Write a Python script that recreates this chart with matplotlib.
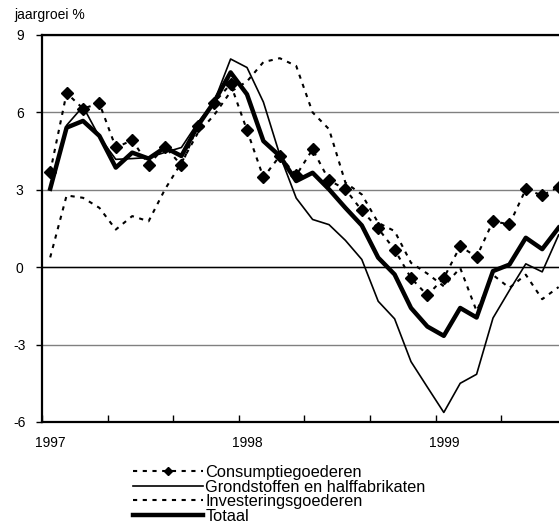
import numpy as np
import matplotlib
matplotlib.use("Agg")
import matplotlib.pyplot as plt

plt.rcParams['font.family'] = ['Liberation Sans', 'DejaVu Sans']
plt.rcParams['lines.scale_dashes'] = False
plt.rcParams['axes.unicode_minus'] = False

# maandelijkse jaargroei, jan 1997 - aug 1999
jaar_labels = ["1997", "1998", "1999"]
jaar_posities = [0, 12, 24]

consumptie = [3.69, 6.75, 6.15, 6.35, 4.64, 4.92, 3.98, 4.67, 3.95, 5.48, 6.38, 7.10,
              5.31, 3.48, 4.31, 3.56, 4.57, 3.37, 3.02, 2.20, 1.50, 0.68, -0.42, -1.09,
              -0.42, 0.81, 0.40, 1.78, 1.66, 3.02, 2.78, 3.11]
grondstoffen = [3.10, 5.50, 6.23, 5.05, 4.18, 4.21, 4.25, 4.45, 4.64, 5.60, 6.42, 8.07,
                7.74, 6.40, 4.35, 2.68, 1.85, 1.65, 1.04, 0.30, -1.32, -2.00, -3.66, -4.65,
                -5.63, -4.50, -4.15, -1.97, -0.90, 0.13, -0.18, 1.25]
investering = [0.38, 2.78, 2.69, 2.30, 1.46, 1.98, 1.78, 3.02, 4.05, 5.20, 5.90, 6.80,
               7.20, 7.95, 8.10, 7.80, 6.00, 5.35, 3.28, 2.82, 1.72, 1.40, 0.17, -0.25,
               -0.74, -0.03, -1.70, -0.30, -0.80, -0.29, -1.24, -0.77]
totaal = [3.04, 5.41, 5.67, 5.09, 3.86, 4.44, 4.21, 4.64, 4.31, 5.48, 6.41, 7.55,
          6.70, 4.89, 4.31, 3.34, 3.66, 3.02, 2.30, 1.62, 0.37, -0.28, -1.58, -2.30,
          -2.66, -1.58, -1.95, -0.15, 0.10, 1.14, 0.70, 1.53]

maanden = np.arange(len(totaal))

fig = plt.figure(figsize=(5.59, 5.29), dpi=100)
ax = fig.add_axes([42/559, 1 - 422/529, 524.8/559, 387/529])

ax.plot(maanden, consumptie, color='black', lw=1.5, dashes=(3, 4),
        marker='D', markersize=6, label='Consumptiegoederen')
ax.plot(maanden, grondstoffen, color='black', lw=1.2,
        label='Grondstoffen en halffabrikaten')
ax.plot(maanden, investering, color='black', lw=1.5, dashes=(3, 4),
        label='Investeringsgoederen')
ax.plot(maanden, totaal, color='black', lw=3.2, label='Totaal')

ax.set_xlim(-0.5, len(totaal) - 0.5)
ax.set_ylim(-6, 9)
ax.set_yticks(range(-6, 10, 3))
ax.yaxis.grid(True, color='#808080', lw=1)
ax.axhline(0, color='black', lw=1, zorder=1)
ax.set_axisbelow(True)

for s in ax.spines.values():
    s.set_linewidth(1.6)
ax.spines['right'].set_visible(False)

ax.tick_params(axis='y', direction='out', length=4, width=1, pad=12, labelsize=10)
for lbl in ax.get_yticklabels():
    lbl.set_ha('center')

ax.set_xticks(np.arange(-0.5, len(totaal), 4))
ax.set_xticklabels([])
ax.tick_params(axis='x', which='major', direction='in', length=5, width=1)
ax.set_xticks(jaar_posities, minor=True)
ax.set_xticklabels(jaar_labels, minor=True)
ax.tick_params(axis='x', which='minor', length=0, pad=10, labelsize=10)

fig.text(14/559, 1 - 15/529, 'jaargroei %', fontsize=10, ha='left', va='center')

ax.legend(loc='upper left', bbox_to_anchor=(133/559, 1 - 465/529),
          bbox_transform=fig.transFigure, frameon=False, borderpad=0,
          borderaxespad=0, fontsize=11.8, handlelength=4.3, handletextpad=0.12,
          labelspacing=-0.03, numpoints=1, markerscale=0.75)

fig.savefig('out.png', dpi=100)
